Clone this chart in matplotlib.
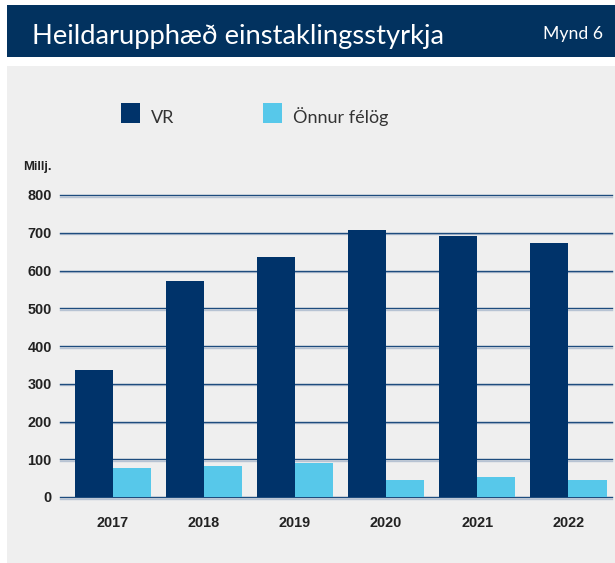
import matplotlib
matplotlib.use("Agg")
import matplotlib.pyplot as plt
import matplotlib.patheffects as pe
from matplotlib.patches import Rectangle
import numpy as np

years = ["2017", "2018", "2019", "2020", "2021", "2022"]
vr = [336, 572, 636, 707, 691, 673]
onnur = [77, 82, 90, 45, 53, 45]
series_names = ["VR", "Önnur félög"]
yticks = [0, 100, 200, 300, 400, 500, 600, 700, 800]

W, H = 615, 563
fig = plt.figure(figsize=(W / 100, H / 100), dpi=100)
fig.patch.set_facecolor("white")

dark = "#00336a"
light = "#57c8ea"
grid_c = "#1e4c7e"

def fx(px):
    return px / W

def fy(py):
    return 1 - py / H

# banner
fig.patches.append(Rectangle((fx(7), fy(57)), 1 - fx(7), fy(5) - fy(57),
                             transform=fig.transFigure, facecolor="#02325f",
                             edgecolor="none", zorder=-2))
fig.text(fx(32), fy(44), "Heildarupphæð einstaklingsstyrkja", color="white",
         fontsize=19.7, family="Lato", va="baseline", ha="left")
fig.text(fx(603), fy(39.5), "Mynd 6", color="white", fontsize=12.7,
         family="Lato", va="baseline", ha="right")

# grey panel
fig.patches.append(Rectangle((fx(7), 0), 1 - fx(7), fy(66),
                             transform=fig.transFigure, facecolor="#efefef",
                             edgecolor="none", zorder=-2))

# legend
fig.patches.append(Rectangle((fx(121), fy(123)), fx(19), 20 / H,
                             transform=fig.transFigure, facecolor=dark,
                             edgecolor="none", zorder=1))
fig.text(fx(151), fy(123), series_names[0], fontsize=13, color="#333333",
         family="Lato", va="baseline")
fig.patches.append(Rectangle((fx(263), fy(123)), fx(19), 20 / H,
                             transform=fig.transFigure, facecolor=light,
                             edgecolor="none", zorder=1))
fig.text(fx(293), fy(123), series_names[1], fontsize=13, color="#333333",
         family="Lato", va="baseline")

fig.text(fx(23), fy(170), "Millj.", fontsize=9.4, fontweight="bold",
         color="#222222", family="Liberation Sans", va="baseline")

ax = fig.add_axes([fx(60), fy(497), fx(612) - fx(60), fy(195) - fy(497)])
ax.set_zorder(2)
ax.set_facecolor("none")
x = np.arange(len(years))
w = 0.42
ax.bar(x - w / 2, vr, width=w, color=dark, zorder=3)
ax.bar(x + w / 2, onnur, width=w, color=light, zorder=3)
ax.set_xlim(-0.58, 5.48)
ax.set_ylim(0, 800)

for v in yticks:
    ax.axhline(v, color=grid_c, lw=1.0, zorder=2, clip_on=False,
               path_effects=[pe.SimpleLineShadow(offset=(0, -1.1),
                                                 shadow_color="#a9b9cc", alpha=0.8),
                             pe.Normal()])

ax.set_yticks(yticks)
ax.set_xticks(x)
ax.set_xticklabels(years)
ax.tick_params(axis="both", length=0, colors="#222222", labelsize=10.4)
ax.tick_params(axis="y", pad=6)
ax.tick_params(axis="x", pad=14)
for lab in ax.get_xticklabels() + ax.get_yticklabels():
    lab.set_fontweight("bold")
    lab.set_family("Liberation Sans")
for s in ax.spines.values():
    s.set_visible(False)

fig.savefig("out.png", dpi=100, facecolor=fig.get_facecolor())
